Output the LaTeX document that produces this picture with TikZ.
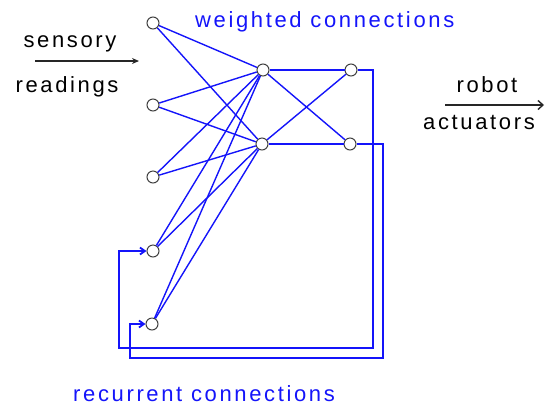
\documentclass[tikz,border=0pt]{standalone}
\usepackage{fontspec}
\setmainfont{Liberation Sans}[LetterSpace=12]
\usetikzlibrary{arrows.meta}
\definecolor{netblue}{RGB}{20,20,250}
\begin{document}
\begin{tikzpicture}[x=1pt,y=-1pt,
  neuron/.style={circle,draw=black!75,fill=white,minimum size=12pt,inner sep=0pt,line width=1pt},
  lbl/.style={font=\fontsize{22}{26}\selectfont,inner sep=0pt,anchor=base},
  blbl/.style={lbl,text=netblue},
  wire/.style={draw=netblue,line width=1.4pt},
  rec/.style={draw=netblue,line width=1.8pt},
  io/.style={draw=black!85,line width=1.4pt}]
\useasboundingbox (0,0) rectangle (545,408);
% neurons
\node[neuron] (i1) at (153,23) {};
\node[neuron] (i2) at (153,105) {};
\node[neuron] (i3) at (153,177) {};
\node[neuron] (i4) at (153,251) {};
\node[neuron] (i5) at (152,324) {};
\node[neuron] (h1) at (263,70) {};
\node[neuron] (h2) at (262,144) {};
\node[neuron] (o1) at (351,70) {};
\node[neuron] (o2) at (350,144) {};
% weighted connections
\foreach \i in {i1,i2,i3,i4,i5}{
  \draw[wire] (\i) -- (h1);
  \draw[wire] (\i) -- (h2);
}
\draw[wire] (h1) -- (o1);
\draw[wire] (h1) -- (o2);
\draw[wire] (h2) -- (o1);
\draw[wire] (h2) -- (o2);
% recurrent connections
\coordinate (r1a) at (373,70);
\coordinate (r1b) at (373,348);
\coordinate (r1c) at (119,348);
\coordinate (r1d) at (119,251);
\coordinate (r2a) at (383,144);
\coordinate (r2b) at (383,358);
\coordinate (r2c) at (130,358);
\coordinate (r2d) at (130,324);
\draw[rec,-{Straight Barb[length=5pt,width=7pt]}] (o1.east) -- (r1a) -- (r1b) -- (r1c) -- (r1d) -- (i4.west);
\draw[rec,-{Straight Barb[length=5pt,width=7pt]}] (o2.east) -- (r2a) -- (r2b) -- (r2c) -- (r2d) -- (i5.west);
% labels
\node[blbl,anchor=base west] (wc) at (195,27) {weighted connections};
\node[blbl,anchor=base west] (rc) at (73,401) {recurrent connections};
\node[lbl] (sens) at (70,47) {sensory};
\node[lbl] (read) at (67,92) {readings};
\coordinate (sa) at (35,61);
\coordinate (sb) at (139,61);
\draw[io,-{Stealth[length=7pt,width=6pt]}] (sa) -- (sb);
\node[lbl] (rob) at (487,92) {robot};
\node[lbl] (act) at (479,129) {actuators};
\coordinate (aa) at (445,105);
\coordinate (ab) at (544,105);
\draw[io,-{Straight Barb[length=5pt,width=9pt]}] (aa) -- (ab);
\end{tikzpicture}
\end{document}
